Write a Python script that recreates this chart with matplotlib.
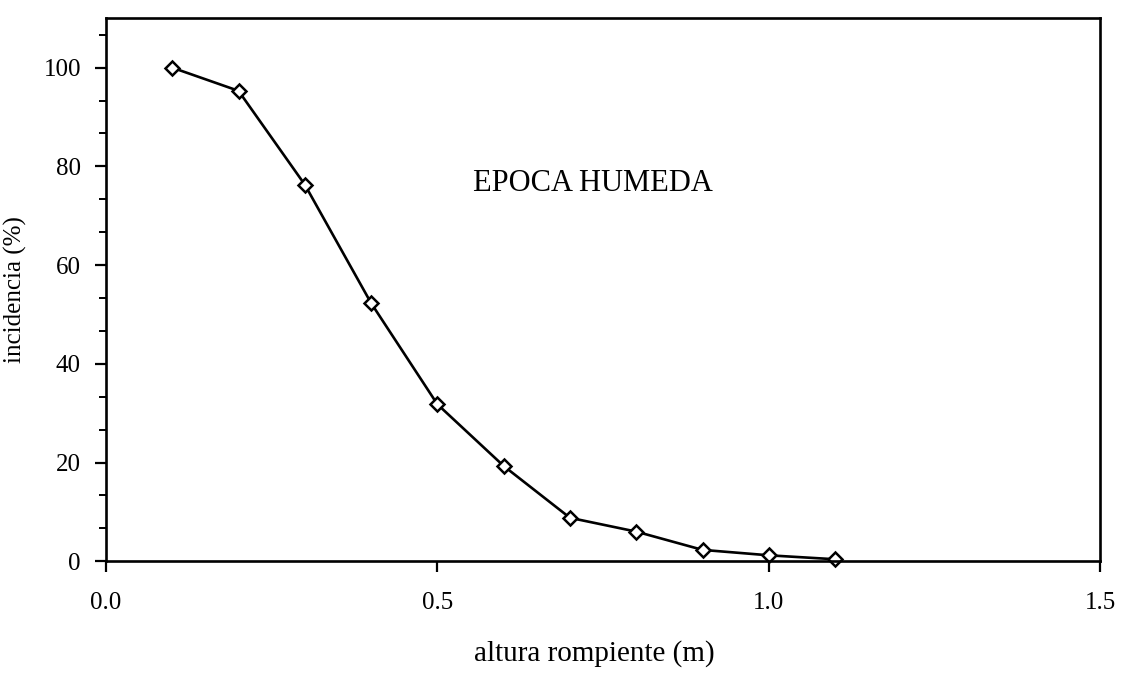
import matplotlib
matplotlib.use('Agg')
import matplotlib.pyplot as plt
from matplotlib.ticker import MultipleLocator

plt.rcParams['font.family'] = ['Liberation Serif', 'DejaVu Serif']

# altura rompiente (m) vs incidencia (%)
altura = [0.1, 0.2, 0.3, 0.4, 0.5, 0.6, 0.7, 0.8, 0.9, 1.0, 1.1]
incidencia = [100, 95.3, 76.3, 52.3, 31.8, 19.3, 8.8, 6.0, 2.3, 1.2, 0.4]

x_ticks = [0.0, 0.5, 1.0, 1.5]
x_ticklabels = ['0.0', '0.5', '1.0', '1.5']
y_ticks = [0, 20, 40, 60, 80, 100]

fig = plt.figure(figsize=(11.39, 6.77), dpi=100)
ax = fig.add_axes([0.093, 0.171, 0.873, 0.802])

ax.plot(altura, incidencia, color='black', lw=1.9, marker='D', markersize=7,
        markerfacecolor='white', markeredgecolor='black', markeredgewidth=1.8,
        clip_on=False)

ax.set_xlim(0, 1.5)
ax.set_ylim(0, 110)
ax.set_xticks(x_ticks)
ax.set_xticklabels(x_ticklabels)
ax.set_yticks(y_ticks)
ax.yaxis.set_minor_locator(MultipleLocator(20 / 3))

for s in ax.spines.values():
    s.set_linewidth(1.9)

ax.tick_params(axis='both', which='major', direction='out', length=8, width=1.6,
               labelsize=18, pad=10)
ax.tick_params(axis='y', which='minor', direction='out', length=5, width=1.4)
ax.tick_params(axis='x', pad=14)

ax.set_xlabel('altura rompiente (m)', fontsize=21)
ax.xaxis.set_label_coords(0.491, -0.145)
ax.set_ylabel('incidencia (%)', fontsize=18, labelpad=12)

ax.text(0.49, 0.696, 'EPOCA HUMEDA', transform=ax.transAxes, ha='center',
        va='center', fontsize=22)

fig.savefig('out.png', dpi=100)
